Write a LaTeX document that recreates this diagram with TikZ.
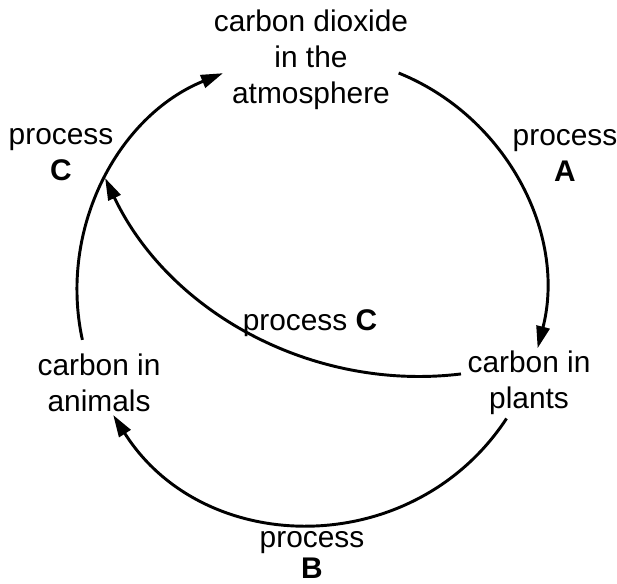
\documentclass[tikz,border=0pt]{standalone}
\usepackage{fontspec}
\setmainfont{Liberation Sans}
\usetikzlibrary{arrows.meta,calc}
\begin{document}
\begin{tikzpicture}[x=0.75pt,y=0.75pt,
  lbl/.style={align=center,inner sep=0pt,font=\fontsize{22.4}{27}\selectfont},
  arr/.style={line width=2.2pt,-{Triangle[length=16.5pt,width=10pt]}}]
\useasboundingbox (0,0) rectangle (617,583);
% text nodes
\node[lbl] (co2) at (311,523) {carbon dioxide\\in the\\atmosphere};
\node[lbl] (pA) at (565,428) {process\\\textbf{A}};
\node[lbl] (pCl) at (61,428) {process\\\textbf{C}};
\node[lbl] (pCi) at (310,260) {process \textbf{C}};
\node[lbl] (anim) at (99,200) {carbon in\\animals};
\node[lbl] (plan) at (529,200) {carbon in\\plants};
\node[lbl,font=\fontsize{22.4}{23}\selectfont,anchor=south] (pB) at (312,4.5) {process\\\textbf{B}};
% circle geometry
\coordinate (O) at (311,293);
\coordinate (O2) at (419,554);
\coordinate (As) at ($(O)+(68:234)$);
\coordinate (Ae) at ($(O)+(-14.4:234)$);
\coordinate (Bs) at ($(O)+(-33.3:234)$);
\coordinate (Be) at ($(O)+(-147.7:234)$);
\coordinate (Cs) at ($(O)+(192.3:234)$);
\coordinate (Ce) at ($(O)+(112.1:234)$);
\coordinate (Is) at ($(O2)+(-83.06:347.5)$);
\coordinate (Ie) at ($(O2)+(-154.6:347.5)$);
% connectors
\draw[arr] (As) to[bend left=41.2,looseness=0.972] (Ae);
\draw[arr] (Bs) to[bend left=57.2,looseness=1.104] (Be);
\draw[arr] (Cs) to[bend left=40.1,looseness=0.965] (Ce);
\draw[arr] (Is) to[bend left=35.75,looseness=0.94] (Ie);
\end{tikzpicture}
\end{document}
